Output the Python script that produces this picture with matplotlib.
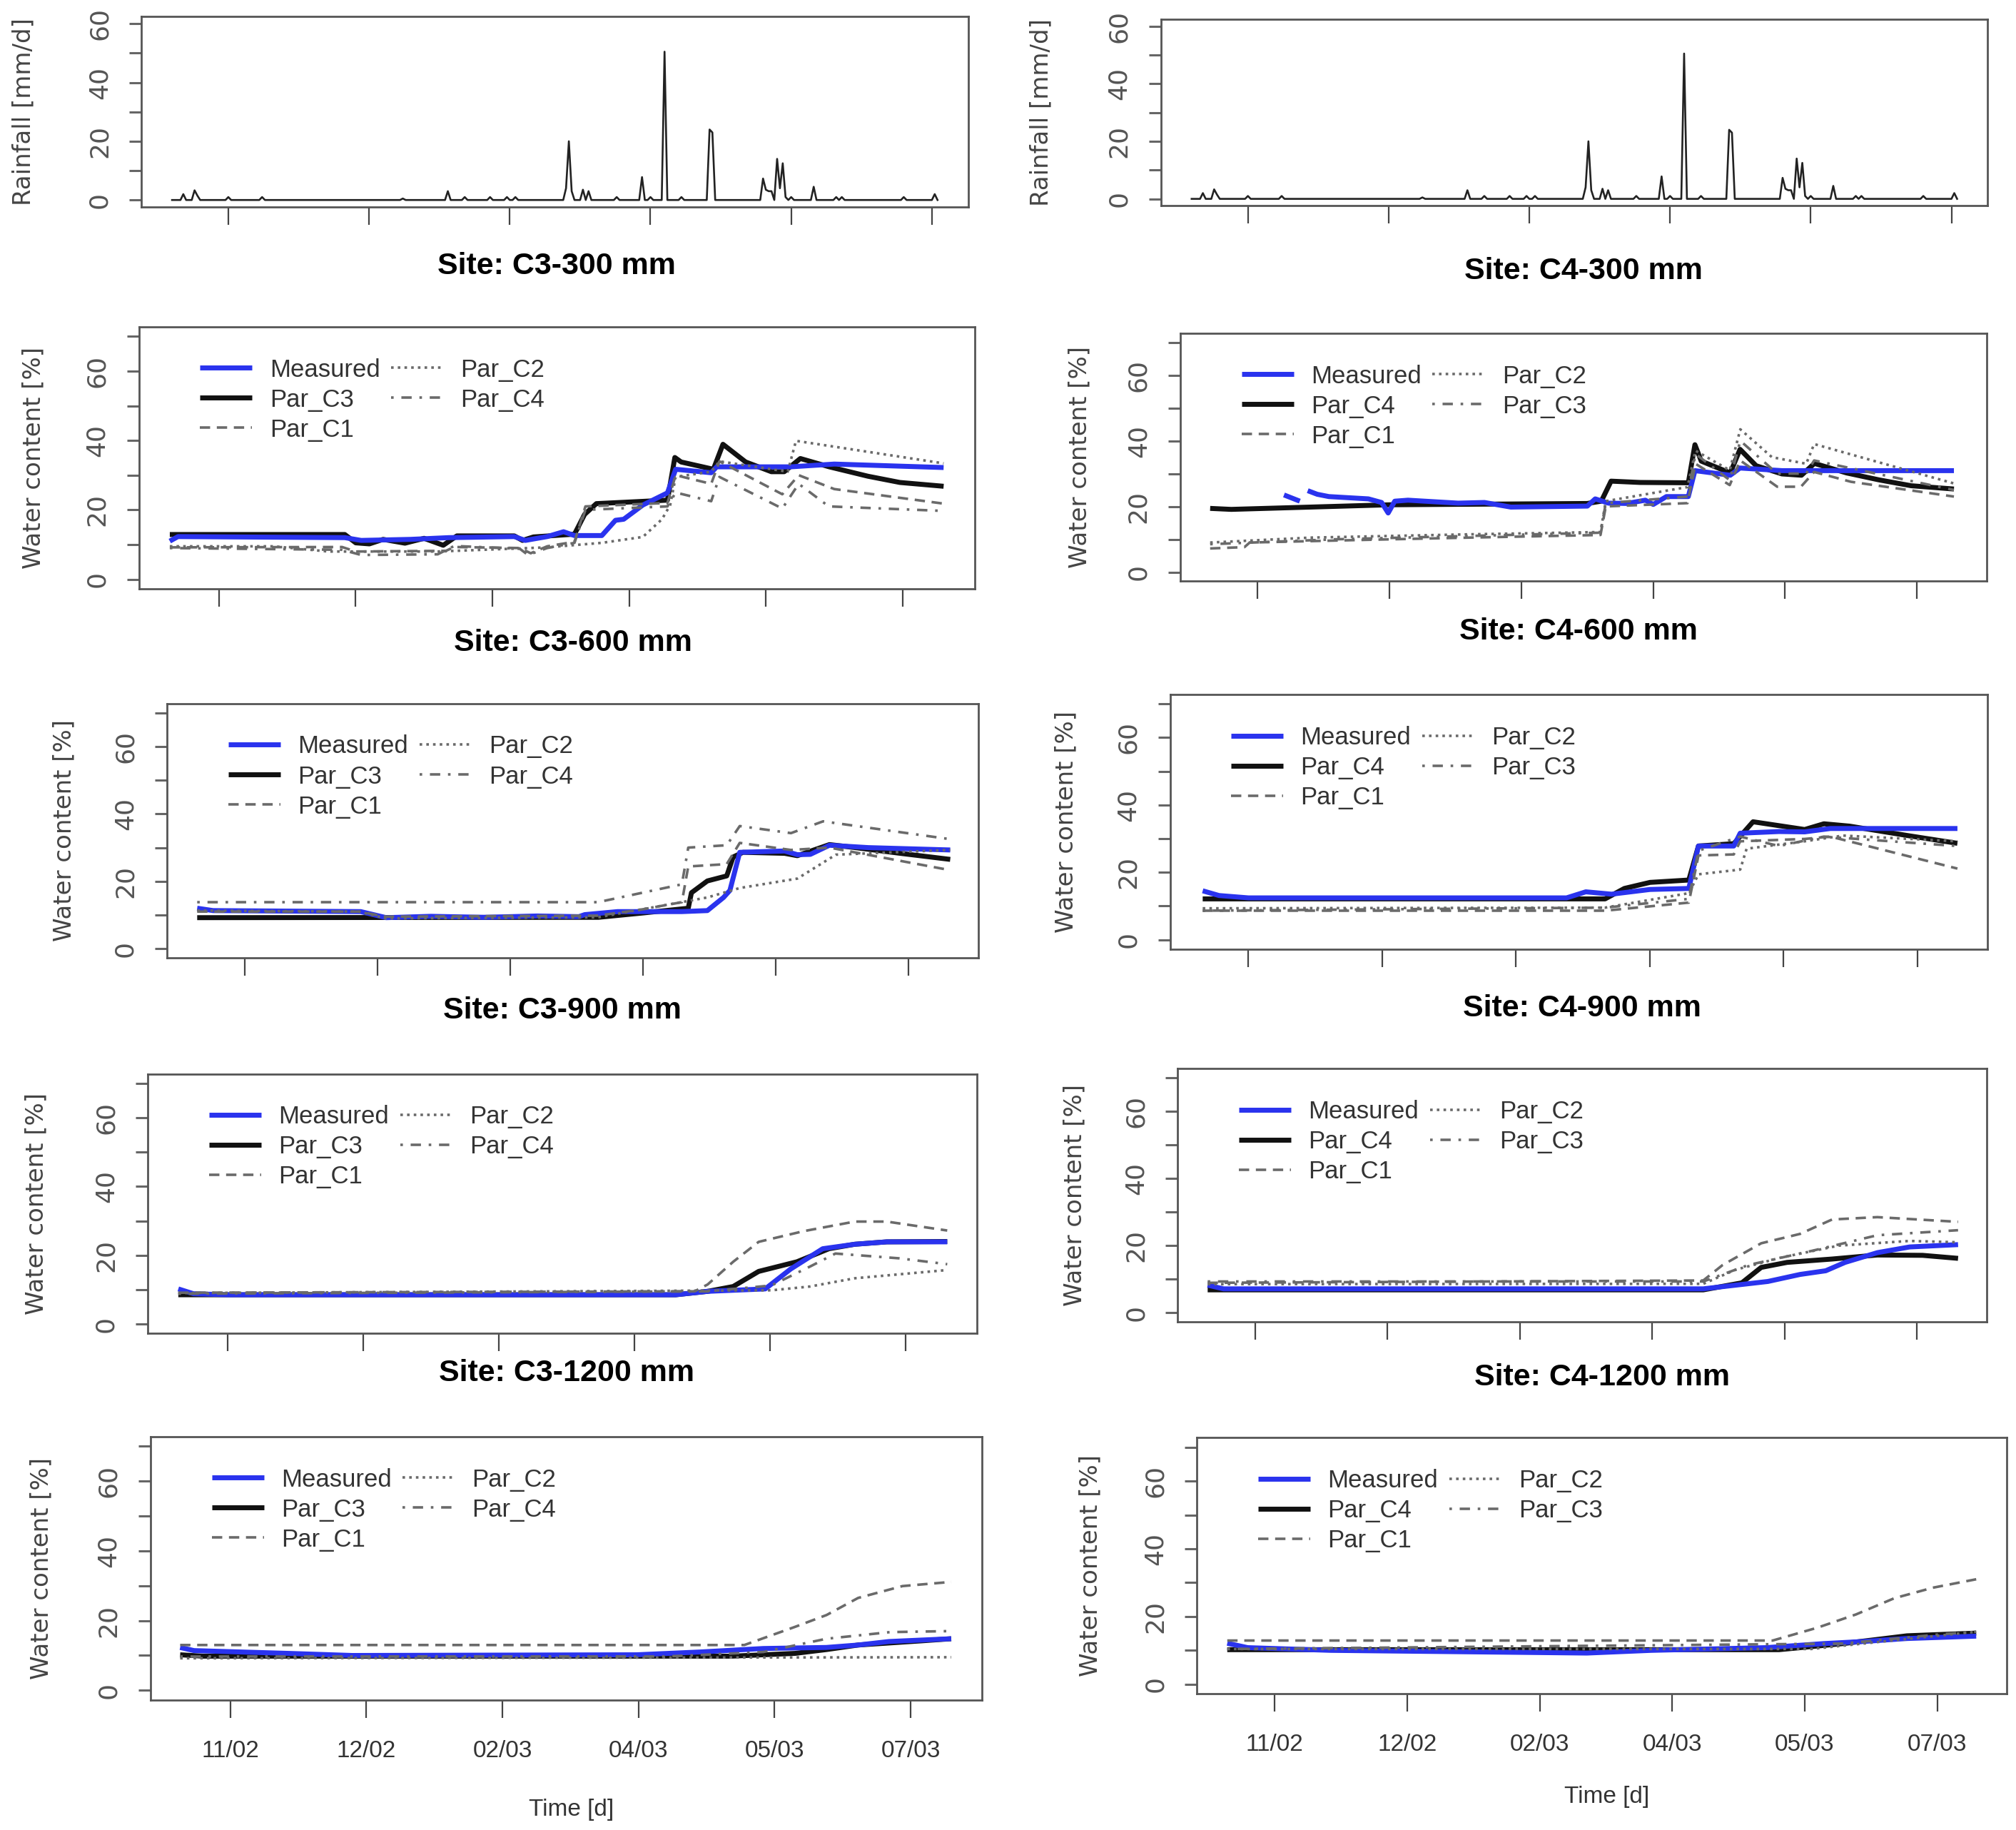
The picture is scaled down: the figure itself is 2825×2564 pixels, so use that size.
import numpy as np
import matplotlib
matplotlib.use("Agg")
import matplotlib.pyplot as plt

nan = float("nan")

# Eje de tiempo: dias desde el inicio de la serie
tick_days = [20, 70, 120, 170, 220, 270]
tick_labels = ["11/02", "12/02", "02/03", "04/03", "05/03", "07/03"]
rain_first_day, rain_last_day = 0, 272
water_first_day, water_last_day = 2, 285

# Lluvia diaria [mm/d]; los dias que no aparecen son 0
rain_day = [4, 8, 9, 20, 32, 82, 98, 104, 113, 119, 122, 140, 141, 142, 146, 148, 158,
            167, 170, 175, 181, 191, 192, 210, 211, 212, 213, 215, 216, 217, 218, 220,
            228, 236, 238, 260, 271]
rain_mm = [2, 3.3, 1.5, 1, 1, 0.5, 3, 1, 1, 1, 1, 4, 20, 3, 3.5, 3, 1,
           7.8, 1, 50.5, 1, 24, 23, 7.3, 3.5, 3, 3, 14, 4, 12.5, 1, 1,
           4.5, 1, 1, 1, 2]

# Contenido de agua [%] como pares (dia, valor)
# --- C3, 300 mm
c3_300_measured = [(2, 11), (5, 12.3), (66, 12), (72, 11.2), (90, 11.5), (104, 12), (128, 12.3),
                   (132, 11.2), (140, 12.3), (146, 13.7), (150, 12.6), (160, 12.6), (165, 17),
                   (168, 17.3), (175, 21.4), (184, 24.9), (187, 31.7), (200, 30.7), (202, 32.4),
                   (229, 32.4), (245, 33.2), (285, 32.2)]
c3_300_par_c3 = [(2, 12.9), (66, 12.9), (70, 10.5), (75, 10.2), (80, 11.5), (88, 10.4), (95, 11.8),
                 (102, 9.8), (107, 12.5), (128, 12.5), (131, 11.2), (135, 12.2), (150, 13),
                 (153.7, 18.7), (158, 21.8), (184, 22.8), (186.7, 35.1), (189, 33.8), (200.8, 31.7),
                 (204.3, 38.9), (212.6, 33.8), (222, 31), (226.7, 31), (232.6, 34.8), (243.2, 32.4),
                 (257.3, 29.7), (269, 27.9), (285, 26.8)]
c3_300_par_c1 = [(2, 9.2), (65, 9.3), (70, 8), (103, 8.2), (106, 9.3), (130, 9), (134, 7.5),
                 (140, 9.5), (150, 10.8), (154, 21), (184, 22), (187, 30), (200, 27.5), (203, 34),
                 (226, 24.5), (232, 30), (245, 26), (285, 21.8)]
c3_300_par_c2 = [(2, 9.5), (40, 9.5), (60, 8), (100, 8), (140, 9.2), (160, 10.5), (175, 12.2),
                 (182, 17.3), (185, 21.4), (187, 29.5), (200, 31), (203, 34), (228, 31),
                 (231, 39.9), (285, 33.4)]
c3_300_par_c4 = [(2, 9), (65, 8.5), (72, 7), (100, 7.2), (106, 9.6), (130, 8.8), (133, 7),
                 (140, 9), (150, 10.5), (154, 20), (184, 21), (187, 25), (200, 22.5), (203, 29.5),
                 (226, 20.4), (232, 27.5), (243, 21), (285, 19.7)]
# --- C4, 300 mm
c4_300_measured = [(30, 23.5), (36, 21.6), (37, nan), (39, 24.8), (42.6, 23.7), (47, 23), (62, 22.3),
                   (67, 21.2), (69.5, 18), (72, 21.6), (77, 21.9), (96, 21), (106, 21.2), (116, 19.8),
                   (145, 20.1), (148, 22.3), (153, 21), (160, 20.9), (167, 21.9), (170, 20.6),
                   (175, 23), (183.3, 23), (185.8, 30.9), (199.2, 29.5), (202.9, 31.7),
                   (218.8, 30.9), (284, 30.9)]
c4_300_par_c4 = [(2, 19.4), (10, 19.1), (70, 20.5), (145, 20.9), (150.3, 21.6), (154, 27.7),
                 (165, 27.3), (183.3, 27.2), (185.8, 38.8), (188.2, 33.8), (199.2, 30.2),
                 (202.9, 37.4), (209, 32.4), (218.8, 29.9), (226.2, 29.5), (231.1, 33.1),
                 (243.3, 30.2), (255.5, 28.1), (267.8, 26.3), (284, 25.3)]
c4_300_par_c1 = [(2, 7.2), (15, 7.6), (17, 9), (60, 9.8), (100, 10.5), (150, 11.3), (152, 20),
                 (183, 21), (186, 33), (199, 26.5), (203, 34), (217, 26), (226, 26), (231, 30.5),
                 (245, 27.5), (284, 23)]
c4_300_par_c2 = [(2, 9), (40, 10.5), (100, 11.5), (150, 12.2), (152, 21.6), (183, 25.9), (186, 37),
                 (199, 31), (203, 43.5), (215, 35), (228, 33), (231, 39), (284, 27)]
c4_300_par_c3 = [(2, 8.5), (50, 10), (100, 11), (150, 12), (152, 21), (183, 23), (186, 36),
                 (199, 28), (203, 40), (217, 30), (228, 30), (231, 34), (284, 25)]
# --- C3, 600 mm
c3_600_measured = [(2, 12), (8, 11.3), (63.6, 11), (73.2, 9.2), (90, 9.6), (110, 9.3), (130, 9.7),
                   (145.8, 9.5), (148, 10.1), (160.4, 11), (184.6, 11), (194.2, 11.3), (200.3, 15.2),
                   (202.7, 17.3), (206.4, 28.6), (223.3, 29), (228.1, 27.9), (233, 28), (240.2, 30.7),
                   (254.8, 30), (285.7, 29.3)]
c3_600_par_c3 = [(2, 9.2), (153.1, 9.3), (170, 10.6), (187, 12), (188.2, 16.6), (194.2, 20.1),
                 (201.5, 21.6), (203.9, 27.2), (207.6, 28.6), (223.3, 28.3), (228.1, 27.6),
                 (240.2, 30.9), (249.9, 30), (266.9, 28.3), (285.7, 26.5)]
c3_600_par_c1 = [(2, 11), (63, 11), (73, 9.5), (153, 9.8), (170, 11.7), (184.6, 13.8), (187, 24.4),
                 (201.5, 25.1), (206.4, 31.4), (225.7, 29.3), (240.2, 30), (285.7, 23.3)]
c3_600_par_c2 = [(2, 11.3), (63, 11), (73, 9), (153, 9.3), (194.2, 15.2), (206.4, 18), (228.1, 20.8),
                 (242.6, 27.9), (285.7, 29.3)]
c3_600_par_c4 = [(2, 13.8), (153, 13.8), (184.6, 19.1), (187, 30), (201.5, 30.7), (206.4, 36.4),
                 (225.7, 34.3), (237.8, 37.8), (285.7, 32.5)]
# --- C4, 600 mm
c4_600_measured = [(2.9, 14.5), (9, 13.1), (20, 12.4), (138.9, 12.4), (146.1, 14.2), (155.7, 13.5),
                   (170.1, 14.9), (184.6, 15.2), (188.2, 27.8), (201.4, 27.8), (203.8, 31.6),
                   (218.3, 32.1), (227.9, 32), (237.5, 33), (285, 33)]
c4_600_par_c4 = [(2.9, 12.1), (153.3, 12.1), (160.5, 15.2), (170.1, 17), (184.6, 17.7), (188.2, 27.8),
                 (201.4, 28.5), (208.6, 35), (227.9, 32.7), (235.1, 34.4), (244.7, 33.7),
                 (266.4, 30.9), (285, 28.6)]
c4_600_par_c1 = [(2.9, 8.6), (153.3, 8.6), (184.6, 11), (188.2, 25), (201.4, 25.3), (203.8, 29.2),
                 (227.9, 29.9), (237.5, 30.6), (285, 21.1)]
c4_600_par_c2 = [(2.9, 9.3), (153.3, 9.5), (184.6, 13.8), (188.2, 19.4), (203.8, 20.8), (206.2, 27),
                 (227.9, 29.2), (242.3, 30.9), (285, 29.2)]
c4_600_par_c3 = [(2.9, 8.6), (153.3, 9.5), (184.6, 12.1), (188.2, 26.4), (203.8, 30.6),
                 (218.3, 27.8), (235.1, 30.6), (285, 27.8)]
# --- C3, 900 mm
c3_900_measured = [(1.9, 10.2), (7.5, 8.8), (20, 8.5), (185.2, 8.5), (197, 9.5), (218.2, 10.2),
                   (227.6, 16), (239.4, 21.9), (251.2, 23.2), (263, 23.9), (285.3, 23.9)]
c3_900_par_c3 = [(1.9, 8.5), (185.2, 8.5), (197, 9.5), (206.4, 10.9), (215.8, 15.3), (229.9, 18.1),
                 (241.7, 21.9), (251.2, 23.2), (263, 23.9), (285.3, 24)]
c3_900_par_c1 = [(1.9, 9.1), (192.2, 9.5), (197, 11.5), (206.4, 18.1), (215.8, 23.9), (232.3, 27),
                 (251.2, 29.8), (263, 29.8), (285.3, 27.2)]
c3_900_par_c2 = [(1.9, 9), (220.5, 9.8), (234.7, 10.9), (251.2, 13.3), (285.3, 15.7)]
c3_900_par_c4 = [(1.9, 8.8), (197, 9.5), (220.5, 11.2), (234.7, 16.7), (244.1, 20.5), (267.7, 19.1),
                 (285.3, 17.4)]
# --- C4, 900 mm
c4_900_measured = [(2, 8.2), (8, 7.1), (189.3, 7.1), (201.5, 8.2), (213.7, 9.3), (225.9, 11.4),
                   (235.6, 12.5), (242.9, 15), (255.1, 17.9), (267.3, 19.6), (285.6, 20.3)]
c4_900_par_c4 = [(2, 6.8), (189.3, 6.8), (203.9, 8.9), (211.2, 13.5), (221, 15), (238, 16),
                 (255.1, 17.2), (272.2, 17.1), (285.6, 16.2)]
c4_900_par_c1 = [(2, 8.9), (189.3, 9.6), (196.6, 14.2), (211.2, 20.7), (225.9, 23.5), (238, 27.8),
                 (255.1, 28.5), (285.6, 27.1)]
c4_900_par_c2 = [(2, 8.5), (189.3, 8.6), (201.5, 12.8), (218.5, 16.4), (240.5, 20), (267.3, 21.4),
                 (285.6, 21)]
c4_900_par_c3 = [(2, 9.3), (189.3, 9.3), (206.3, 14.2), (230.7, 18.5), (255.1, 23.1), (285.6, 24.6)]
# --- C3, 1200 mm
c3_1200_measured = [(1.6, 12.3), (6.7, 11.4), (41.5, 10.6), (64.8, 10), (169.4, 10.2), (192.6, 11),
                    (215.9, 12), (239, 12.3), (250.7, 13), (262, 14), (284.9, 14.8)]
c3_1200_par_c3 = [(1.6, 10.2), (10, 9.8), (204.2, 9.8), (227.5, 10.6), (239.1, 11.7), (250.7, 13),
                  (274, 14.2), (284.9, 14.8)]
c3_1200_par_c1 = [(1.6, 13), (208.9, 13), (227.5, 18.2), (239.1, 21.6), (250.7, 26.5), (267, 29.9),
                  (284.9, 31.1)]
c3_1200_par_c2 = [(1.6, 9.2), (284.9, 9.5)]
c3_1200_par_c4 = [(1.6, 9.7), (180, 9.7), (215.9, 11), (239.1, 14.8), (262.4, 16.7), (284.9, 17)]
# --- C4, 1200 mm
c4_1200_measured = [(2.1, 12.1), (9.8, 10.8), (41.2, 10), (89.5, 9.6), (137.8, 9.2), (162, 10),
                    (205.5, 10.8), (227.2, 12), (241.7, 12.6), (258.6, 13.5), (284.7, 14.2)]
c4_1200_par_c4 = [(2.1, 10.2), (210.3, 10.2), (234.5, 12), (258.6, 14.3), (284.7, 15.1)]
c4_1200_par_c1 = [(2.1, 12.9), (207.9, 12.9), (224.8, 16.7), (239.3, 20.6), (253.8, 25.4),
                  (268.3, 28.5), (284.7, 31)]
c4_1200_par_c2 = [(2.1, 10.4), (222.4, 10.4), (284.7, 15.5)]
c4_1200_par_c3 = [(2.1, 10.4), (234.5, 12), (270.7, 14.7), (284.7, 15.5)]

# ---------------------------------------------------------------------------
# Maquetacion (coordenadas de la imagen de referencia a escala 1568 x 1423)
W, H = 1568.0, 1423.0
BLUE = "#2a33ee"
BLACK = "#111111"
GRAY = "#6a6a6a"
AXCOL = "#555555"

plt.rcParams["font.family"] = ["Liberation Sans", "DejaVu Sans"]

fig = plt.figure(figsize=(28.25, 25.64), dpi=100)


def rect(l, t, r, b):
    return [l / W, 1 - b / H, (r - l) / W, (b - t) / H]


def style_axes(ax, yticks, ylabels, bottom):
    for s in ax.spines.values():
        s.set_linewidth(2.0)
        s.set_color(AXCOL)
    ax.set_yticks(yticks)
    ax.set_yticklabels(ylabels, fontsize=26, family="DejaVu Sans", color="#555555",
                       rotation=90, va="center")
    ax.tick_params(axis="y", direction="out", length=12, width=2.2, color="#666666", pad=18)
    ax.set_xticks(tick_days)
    if bottom:
        ax.set_xticklabels(tick_labels, fontsize=24, color="#333333")
    else:
        ax.set_xticklabels([])
    ax.tick_params(axis="x", direction="out", length=18, width=1.6, color="#444444", pad=22)


def xy(pairs):
    return [p[0] for p in pairs], [p[1] for p in pairs]


# --- Lluvia (fila superior)
rain_days = np.arange(rain_first_day, rain_last_day + 1)
rain = np.zeros(len(rain_days))
rain[np.searchsorted(rain_days, rain_day)] = rain_mm
rain_span = rain_last_day - rain_first_day

rain_panels = [
    dict(box=(110, 13, 753, 161), ylab_x=18),
    dict(box=(903, 15, 1546, 160), ylab_x=810),
]
for p in rain_panels:
    l, t, r, b = p["box"]
    ax = fig.add_axes(rect(l, t, r, b))
    ax.plot(rain_days, rain, color="#222222", lw=1.9)
    ax.set_xlim(rain_first_day - 0.04 * rain_span, rain_last_day + 0.04 * rain_span)
    ax.set_ylim(-2.4, 62.4)
    style_axes(ax, list(range(0, 61, 10)), ["0", "", "20", "", "40", "", "60"], False)
    fig.text(p["ylab_x"] / W, 1 - (t + b) / 2 / H, "Rainfall [mm/d]", rotation=90,
             ha="center", va="center", fontsize=24.5, family="DejaVu Sans", color="#444444")

# --- Contenido de agua
water_span = water_last_day - water_first_day
water_panels = [
    dict(box=(108, 254, 758, 458), ylab_x=26, title="Site: C3-300 mm", title_y=207,
         own="Par_C3", other="Par_C4",
         data=(c3_300_measured, c3_300_par_c3, c3_300_par_c1, c3_300_par_c2, c3_300_par_c4)),
    dict(box=(918, 259, 1545, 452), ylab_x=840, title="Site: C4-300 mm", title_y=211,
         own="Par_C4", other="Par_C3",
         data=(c4_300_measured, c4_300_par_c4, c4_300_par_c1, c4_300_par_c2, c4_300_par_c3)),
    dict(box=(130, 547, 761, 745), ylab_x=50, title="Site: C3-600 mm", title_y=500,
         own="Par_C3", other="Par_C4",
         data=(c3_600_measured, c3_600_par_c3, c3_600_par_c1, c3_600_par_c2, c3_600_par_c4)),
    dict(box=(910, 540, 1546, 738), ylab_x=829, title="Site: C4-600 mm", title_y=491,
         own="Par_C4", other="Par_C3",
         data=(c4_600_measured, c4_600_par_c4, c4_600_par_c1, c4_600_par_c2, c4_600_par_c3)),
    dict(box=(115, 835, 760, 1037), ylab_x=28, title="Site: C3-900 mm", title_y=786,
         own="Par_C3", other="Par_C4",
         data=(c3_900_measured, c3_900_par_c3, c3_900_par_c1, c3_900_par_c2, c3_900_par_c4)),
    dict(box=(916, 831, 1545, 1028), ylab_x=836, title="Site: C4-900 mm", title_y=784,
         own="Par_C4", other="Par_C3",
         data=(c4_900_measured, c4_900_par_c4, c4_900_par_c1, c4_900_par_c2, c4_900_par_c3)),
    dict(box=(117, 1117, 764, 1322), ylab_x=32, title="Site: C3-1200 mm", title_y=1068,
         own="Par_C3", other="Par_C4", bottom=True, time_y=1407,
         data=(c3_1200_measured, c3_1200_par_c3, c3_1200_par_c1, c3_1200_par_c2, c3_1200_par_c4)),
    dict(box=(931, 1118, 1561, 1317), ylab_x=848, title="Site: C4-1200 mm", title_y=1071,
         own="Par_C4", other="Par_C3", bottom=True, time_y=1397,
         data=(c4_1200_measured, c4_1200_par_c4, c4_1200_par_c1, c4_1200_par_c2, c4_1200_par_c3)),
]

for p in water_panels:
    l, t, r, b = p["box"]
    bottom = p.get("bottom", False)
    ax = fig.add_axes(rect(l, t, r, b))
    meas, own, c1, c2, other = p["data"]

    h_own, = ax.plot(*xy(own), color=BLACK, lw=5, solid_capstyle="butt")
    h_meas, = ax.plot(*xy(meas), color=BLUE, lw=5, solid_capstyle="butt")
    h_c1, = ax.plot(*xy(c1), color=GRAY, lw=2.6, dashes=(4, 2.6))
    h_c2, = ax.plot(*xy(c2), color=GRAY, lw=2.6, dashes=(1, 1.6))
    h_other, = ax.plot(*xy(other), color=GRAY, lw=2.6, dashes=(1, 3, 4, 3))

    ax.set_xlim(water_first_day - 0.04 * water_span, water_last_day + 0.04 * water_span)
    ax.set_ylim(-2.8, 72.8)
    style_axes(ax, list(range(0, 71, 10)), ["0", "", "20", "", "40", "", "60", ""], bottom)

    # leyenda arriba a la izquierda, sin marco
    w_px = (r - l) * 1.8017
    h_px = (b - t) * 1.8017
    leg = ax.legend([h_meas, h_own, h_c1, h_c2, h_other],
                    ["Measured", p["own"], "Par_C1", "Par_C2", p["other"]],
                    ncol=2, loc="upper left", bbox_to_anchor=(72 / w_px, 1 - 30 / h_px),
                    frameon=False, fontsize=25, handlelength=2.1, handletextpad=0.7,
                    columnspacing=0.45, labelspacing=0.26, borderaxespad=0)
    for txt in leg.get_texts():
        txt.set_color("#333333")

    fig.text(p["ylab_x"] / W, 1 - (t + b) / 2 / H, "Water content [%]", rotation=90,
             ha="center", va="center", fontsize=24.5, family="DejaVu Sans", color="#444444")
    fig.text((l + r) / 2 / W, 1 - p["title_y"] / H, p["title"], ha="center", va="center",
             fontsize=31, fontweight="bold", color="black")
    if bottom:
        fig.text((l + r) / 2 / W + 4 / W, 1 - p["time_y"] / H, "Time [d]", ha="center",
                 va="center", fontsize=24, color="#333333")

fig.savefig("out.png", dpi=100, facecolor="white")
